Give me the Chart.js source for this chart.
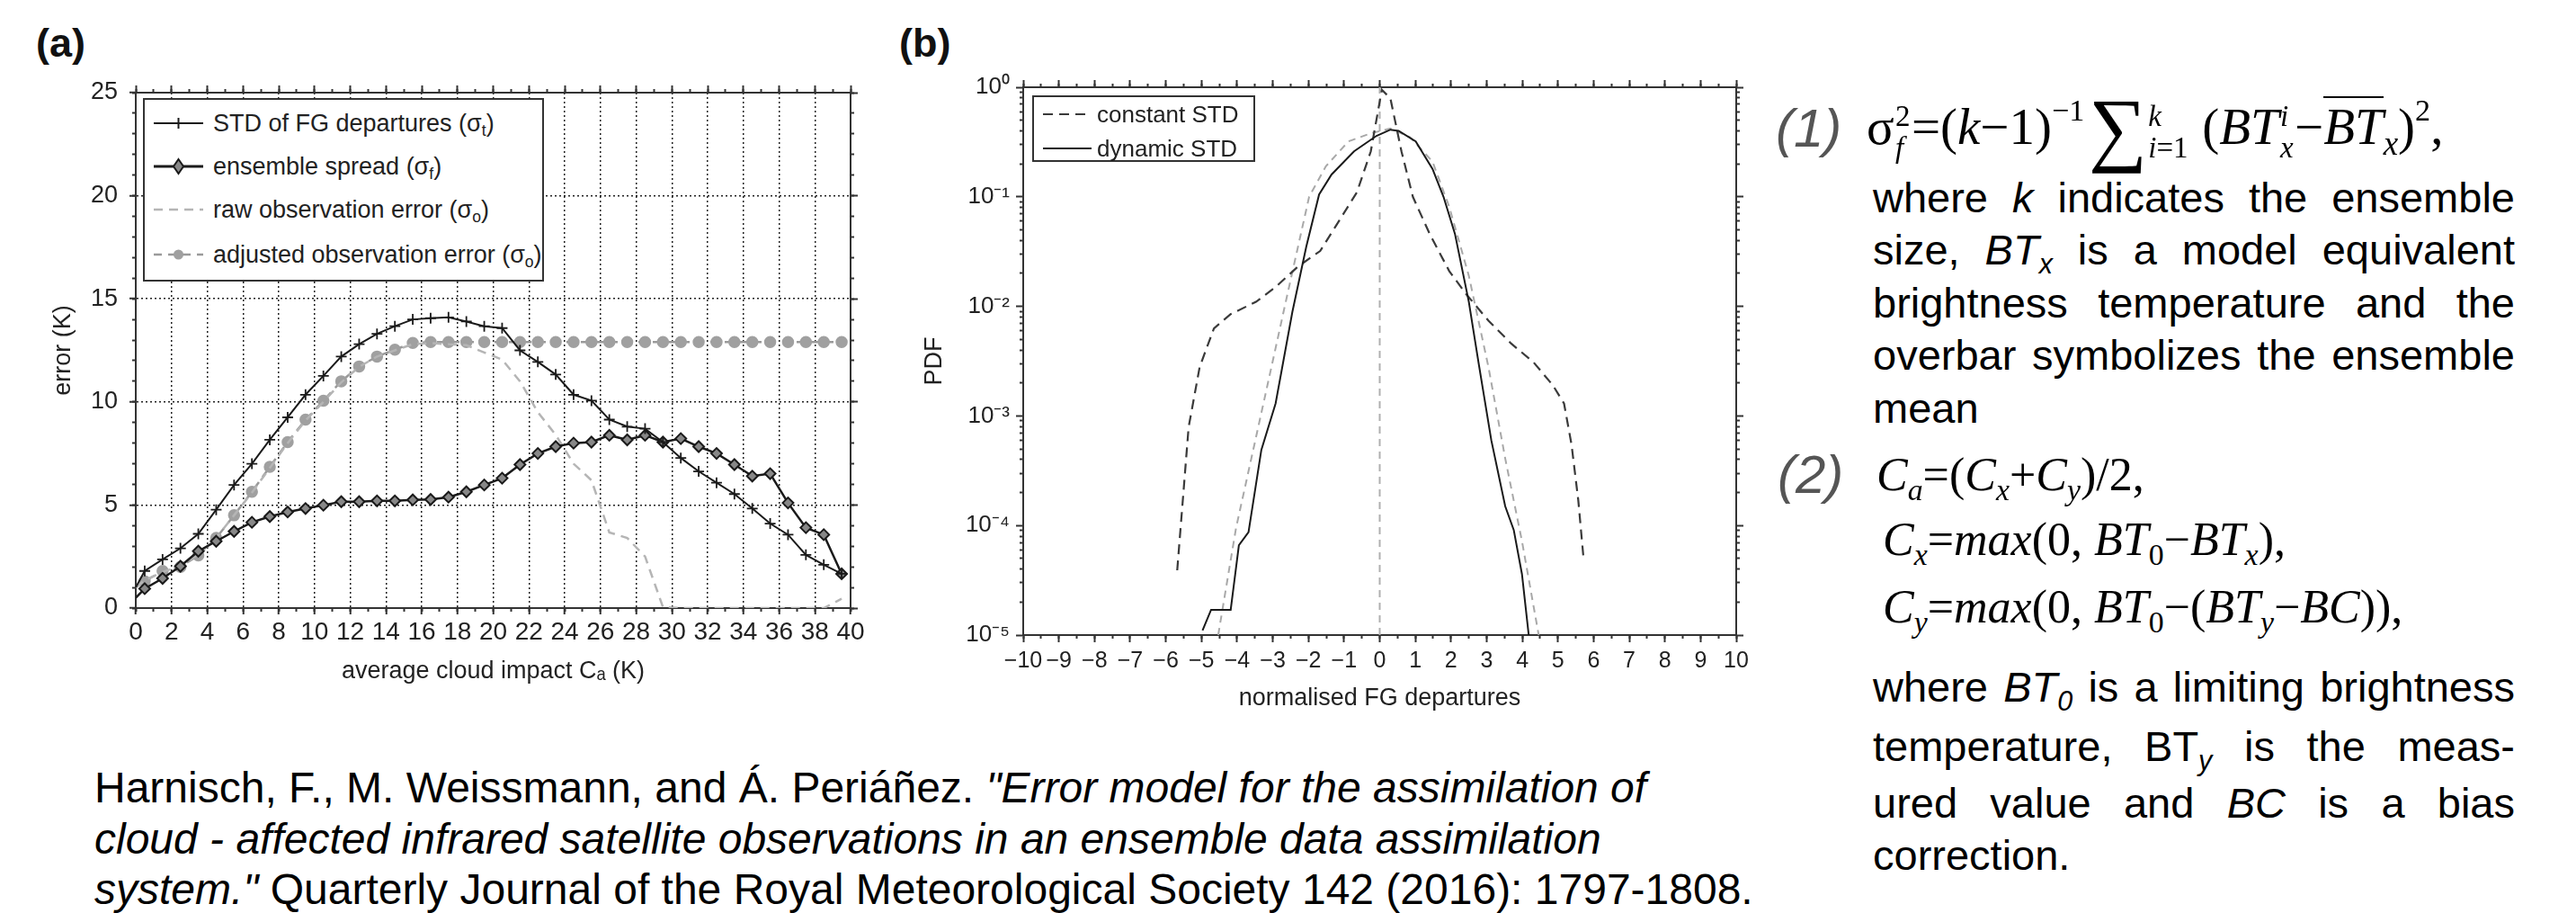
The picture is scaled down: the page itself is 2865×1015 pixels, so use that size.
<!DOCTYPE html>
<html>
<head>
<meta charset="utf-8">
<script src="https://cdn.jsdelivr.net/npm/chart.js@4.4.0/dist/chart.umd.min.js"></script>
<style>
html, body { margin: 0; padding: 0; background: #fff; }
body { width: 2865px; height: 1015px; position: relative; overflow: hidden;
       font-family: "Liberation Sans", Arial, sans-serif; color: #111; }
canvas { position: absolute; }
.tag { position: absolute; font-weight: bold; font-size: 45px; line-height: 1; }
.legend { position: absolute; border: 2px solid #333; background: #fff; box-sizing: border-box; }
.legend .row { position: absolute; left: 0; height: 36px; display: flex; align-items: center; white-space: nowrap; color: #222; }
.legend svg { display: block; }
.legend sub { font-size: 0.65em; vertical-align: -0.3em; line-height: 0; }
.line { position: absolute; font-size: 48px; line-height: 1; white-space: nowrap; color: #000; }
.para { position: absolute; left: 2083px; width: 714px; font-size: 47px; line-height: 1;
        text-align: justify; text-align-last: justify; color: #000; }
.para.last { text-align-last: left; }
.sb { font-size: 0.65em; vertical-align: -0.32em; line-height: 0; }
.eqn { position: absolute; font-style: italic; font-size: 60px; line-height: 1; color: #555; }
.math { position: absolute; font-family: "Liberation Serif", "Times New Roman", serif; font-size: 52px; line-height: 1; white-space: nowrap; color: #000; }
.math.big { font-size: 57px; }
.math .st { display: inline-flex; flex-direction: column; font-size: 0.58em; line-height: 1.05; vertical-align: middle; margin: 0 0.04em; }
.math .sp { font-size: 0.6em; vertical-align: 0.75em; line-height: 0; }
.math .sum { font-size: 1.6em; vertical-align: -0.14em; line-height: 0; margin-left: 0.05em; }
.math .ov { border-top: 2px solid #000; }
</style>
</head>
<body>

<div class="tag" style="left:40px;top:25px;">(a)</div>
<div class="tag" style="left:1000px;top:25px;">(b)</div>

<canvas id="chartA" width="980" height="780" style="left:0;top:0;"></canvas>
<canvas id="chartB" width="1000" height="800" style="left:980px;top:0;"></canvas>

<!-- legend (a) -->
<div class="legend" style="left:159px;top:109px;width:446px;height:204px;font-size:27px;">
  <div class="row" style="top:8px;">
    <svg width="76" height="24" viewBox="0 0 76 24"><line x1="10" y1="12" x2="65" y2="12" stroke="#1a1a1a" stroke-width="2"/><line x1="37.5" y1="6" x2="37.5" y2="18" stroke="#1a1a1a" stroke-width="2"/></svg>
    <span>STD of FG departures (σ<sub>t</sub>)</span>
  </div>
  <div class="row" style="top:56px;">
    <svg width="76" height="24" viewBox="0 0 76 24"><line x1="10" y1="12" x2="65" y2="12" stroke="#1a1a1a" stroke-width="3"/><polygon points="37.5,4 43,12 37.5,20 32,12" fill="#888" stroke="#1a1a1a" stroke-width="2"/></svg>
    <span>ensemble spread (σ<sub>f</sub>)</span>
  </div>
  <div class="row" style="top:104px;">
    <svg width="76" height="24" viewBox="0 0 76 24"><line x1="10" y1="12" x2="65" y2="12" stroke="#b5b5b5" stroke-width="2.5" stroke-dasharray="10 7"/></svg>
    <span>raw observation error (σ<sub>o</sub>)</span>
  </div>
  <div class="row" style="top:154px;">
    <svg width="76" height="24" viewBox="0 0 76 24"><line x1="10" y1="12" x2="65" y2="12" stroke="#9a9a9a" stroke-width="2.5" stroke-dasharray="9 7"/><circle cx="37.5" cy="12" r="5.5" fill="#a0a0a0"/></svg>
    <span>adjusted observation error (σ<sub>o</sub>)</span>
  </div>
</div>

<!-- legend (b) -->
<div class="legend" style="left:1148px;top:106px;width:248px;height:74px;font-size:26px;">
  <div class="row" style="top:1px;">
    <svg width="70" height="24" viewBox="0 0 70 24"><line x1="10" y1="12" x2="64" y2="12" stroke="#3a3a3a" stroke-width="2.2" stroke-dasharray="11 7"/></svg>
    <span>constant STD</span>
  </div>
  <div class="row" style="top:39px;">
    <svg width="70" height="24" viewBox="0 0 70 24"><line x1="10" y1="12" x2="64" y2="12" stroke="#1a1a1a" stroke-width="2"/></svg>
    <span>dynamic STD</span>
  </div>
</div>

<!-- equations and text -->
<div class="eqn" style="left:1975px;top:113px;">(1)</div>
<div class="math big" style="left:2076px;top:112px;">σ<span class="st"><span>2</span><i>f</i></span>=(<i>k</i>−1)<span class="sp">−1</span><span class="sum">∑</span><span class="st"><i>k</i><span><i>i</i>=1</span></span> (<i>BT</i><span class="st"><i>i</i><i>x</i></span>−<span class="ov"><i>BT</i></span><span class="sb"><i>x</i></span>)<span class="sp">2</span>,</div>

<div class="para" style="top:196px;">where <i>k</i> indicates the ensemble</div>
<div class="para" style="top:254px;">size, <i>BT<span class="sb">x</span></i> is a model equivalent</div>
<div class="para" style="top:313px;">brightness temperature and the</div>
<div class="para" style="top:371px;">overbar symbolizes the ensemble</div>
<div class="para last" style="top:430px;">mean</div>

<div class="eqn" style="left:1977px;top:498px;">(2)</div>
<div class="math" style="left:2087px;top:502px;"><i>C</i><span class="sb"><i>a</i></span>=(<i>C</i><span class="sb"><i>x</i></span>+<i>C</i><span class="sb"><i>y</i></span>)/2,</div>
<div class="math" style="left:2094px;top:574px;"><i>C</i><span class="sb"><i>x</i></span>=<i>max</i>(0, <i>BT</i><span class="sb">0</span>−<i>BT</i><span class="sb"><i>x</i></span>),</div>
<div class="math" style="left:2094px;top:649px;"><i>C</i><span class="sb"><i>y</i></span>=<i>max</i>(0, <i>BT</i><span class="sb">0</span>−(<i>BT</i><span class="sb"><i>y</i></span>−<i>BC</i>)),</div>

<div class="para" style="top:740px;">where <i>BT<span class="sb">0</span></i> is a limiting brightness</div>
<div class="para" style="top:806px;">temperature, BT<span class="sb"><i>y</i></span> is the meas-</div>
<div class="para" style="top:869px;">ured value and <i>BC</i> is a bias</div>
<div class="para last" style="top:927px;">correction.</div>

<div class="line" style="left:105px;top:852px;">Harnisch, F., M. Weissmann, and Á. Periáñez. <i>"Error model for the assimilation of</i></div>
<div class="line" style="left:105px;top:909px;"><i>cloud - affected infrared satellite observations in an ensemble data assimilation</i></div>
<div class="line" style="left:105px;top:965px;"><i>system."</i> Quarterly Journal of the Royal Meteorological Society 142 (2016): 1797-1808.</div>

<script>
// ---- panel (a) data: error vs average cloud impact (bin centres) ----
const cloudImpact = [0, 0.5, 1.5, 2.5, 3.5, 4.5, 5.5, 6.5, 7.5, 8.5, 9.5, 10.5, 11.5, 12.5, 13.5, 14.5,
  15.5, 16.5, 17.5, 18.5, 19.5, 20.5, 21.5, 22.5, 23.5, 24.5, 25.5, 26.5, 27.5, 28.5, 29.5, 30.5,
  31.5, 32.5, 33.5, 34.5, 35.5, 36.5, 37.5, 38.5, 39.5];
const stdFgDep = [1.0, 1.8, 2.36, 2.9, 3.6, 4.77, 5.97, 7.0, 8.16, 9.25, 10.35, 11.26, 12.2, 12.8, 13.3, 13.67,
  14.0, 14.06, 14.1, 13.9, 13.67, 13.58, 12.5, 11.94, 11.33, 10.35, 10.06, 9.14, 8.8, 8.7, 8.05, 7.28,
  6.63, 6.08, 5.53, 4.83, 4.1, 3.56, 2.58, 2.1, 1.66];
const ensSpread = [0.5, 0.94, 1.44, 2.03, 2.76, 3.24, 3.72, 4.16, 4.44, 4.66, 4.83, 4.99, 5.16, 5.16, 5.2, 5.2,
  5.25, 5.27, 5.38, 5.64, 5.97, 6.3, 6.96, 7.5, 7.83, 8.0, 8.05, 8.38, 8.16, 8.38, 8.05, 8.22,
  7.83, 7.5, 6.96, 6.4, 6.52, 5.1, 3.9, 3.56, 1.66];
const rawObsErr = [1.0, 1.35, 1.75, 2.05, 2.6, 3.4, 4.5, 5.6, 6.8, 8.0, 9.1, 10.0, 10.95, 11.7, 12.2, 12.5,
  12.8, 12.85, 12.8, 12.75, 12.4, 12.05, 11.0, 9.5, 8.4, 7.0, 6.2, 3.67, 3.4, 2.5, 0.05, 0,
  0, 0, 0, 0, 0, 0, 0, 0, 0.45];
const adjObsErr = [1.0, 1.3, 1.8, 2.0, 2.55, 3.4, 4.5, 5.64, 6.85, 8.05, 9.14, 10.06, 11.0, 11.72, 12.2, 12.53,
  12.86, 12.9, 12.9, 12.9, 12.9, 12.9, 12.9, 12.9, 12.9, 12.9, 12.9, 12.9, 12.9, 12.9, 12.9, 12.9,
  12.9, 12.9, 12.9, 12.9, 12.9, 12.9, 12.9, 12.9, 12.9];
const impactTicks = [0, 2, 4, 6, 8, 10, 12, 14, 16, 18, 20, 22, 24, 26, 28, 30, 32, 34, 36, 38, 40];
const errorTicks = [0, 5, 10, 15, 20, 25];

// ---- panel (b) data: PDF of normalised FG departures ----
const constX = [-5.68, -5.36, -5.05, -4.65, -4.18, -3.47, -2.92, -2.30, -1.67, -1.04, -0.64, -0.25, 0.06,
  0.30, 0.61, 0.93, 1.40, 1.95, 2.42, 3.05, 3.68, 4.31, 4.86, 5.17, 5.38, 5.57, 5.72];
const constPdf = [3.9e-5, 7.9e-4, 2.8e-3, 6.3e-3, 8.5e-3, 1.1e-2, 1.5e-2, 2.3e-2, 3.2e-2, 6.8e-2, 0.11, 0.26, 0.95,
  0.79, 0.26, 0.10, 0.046, 0.021, 0.013, 7.4e-3, 4.6e-3, 3.1e-3, 1.9e-3, 1.3e-3, 5.5e-4, 1.7e-4, 4.9e-5];
const dynX = [-4.97, -4.73, -4.50, -4.18, -3.95, -3.68, -3.32, -2.92, -2.45, -2.06, -1.70, -1.35, -0.72, -0.09,
  0.30, 0.53, 1.01, 1.48, 1.79, 2.11, 2.50, 2.77, 3.13, 3.52, 3.76, 3.99, 4.18];
const dynPdf = [1.1e-5, 1.7e-5, 1.7e-5, 1.7e-5, 6.6e-5, 8.7e-5, 4.9e-4, 1.3e-3, 8.9e-3, 0.035, 0.105, 0.16, 0.26, 0.36,
  0.41, 0.40, 0.32, 0.18, 0.10, 0.046, 0.011, 3.1e-3, 6.0e-4, 1.5e-4, 9.1e-5, 3.6e-5, 1.0e-5];
const gaussX = [-4.53, -4.03, -3.24, -2.61, -1.98, -1.51, -0.88, -0.25, 0.30, 0.85, 1.48, 1.95, 2.50, 3.05, 3.52, 3.99, 4.46];
const gaussPdf = [1.0e-5, 9.5e-5, 1.4e-3, 0.012, 0.10, 0.19, 0.32, 0.38, 0.42, 0.35, 0.21, 0.081, 0.019, 2.8e-3, 4.1e-4, 7.2e-5, 1.0e-5];
const zeroX = [0, 0];
const zeroPdf = [1e-5, 1];
const departTicks = [-10, -9, -8, -7, -6, -5, -4, -3, -2, -1, 0, 1, 2, 3, 4, 5, 6, 7, 8, 9, 10];
const pdfTicks = [1e-5, 1e-4, 1e-3, 1e-2, 1e-1, 1];
const pdfTickLabels = ['10⁻⁵', '10⁻⁴', '10⁻³', '10⁻²', '10⁻¹', '10⁰'];

// minor tick positions
const impactMinor = []; for (let v = 0; v <= 40; v++) impactMinor.push(v);
const errorMinor = []; for (let v = 0; v <= 25; v++) errorMinor.push(v);
const departMinor = []; for (let v = -10; v <= 10; v += 0.5) departMinor.push(v);
const pdfMinor = []; for (let e = -5; e < 0; e++) for (let m = 2; m <= 9; m++) pdfMinor.push(m * Math.pow(10, e));

const FONT = 'Liberation Sans';
const AXIS = '#333';
const pts = (xs, ys) => xs.map((x, i) => ({x, y: ys[i]}));
const setTicks = vals => s => { s.ticks = vals.map(v => ({value: v})); };

// axis that only draws tick marks (and optionally the frame line)
function tickAxis(pos, type, min, max, vals, len, frame) {
  const horiz = pos === 'top' || pos === 'bottom';
  return {
    type, position: pos, min, max, weight: 0,
    afterBuildTicks: setTicks(vals),
    afterFit: s => { if (horiz) s.height = 0; else s.width = 0; },
    ticks: { display: false, autoSkip: false },
    grid: { drawOnChartArea: false, tickLength: len, tickWidth: 2, tickColor: AXIS },
    border: { display: !!frame, color: AXIS, width: 2 }
  };
}

Chart.defaults.font.family = FONT;
Chart.defaults.color = '#222';

new Chart(document.getElementById('chartA'), {
  type: 'line',
  data: {
    datasets: [
      { label: 'STD of FG departures', data: pts(cloudImpact, stdFgDep), borderColor: '#1a1a1a', borderWidth: 2,
        pointStyle: 'cross', pointRadius: c => c.dataIndex === 0 ? 0 : 6, pointBorderWidth: 1.8,
        pointBorderColor: '#1a1a1a', tension: 0 },
      { label: 'ensemble spread', data: pts(cloudImpact, ensSpread), borderColor: '#1a1a1a', borderWidth: 2.5,
        pointStyle: 'rectRot', pointRadius: c => c.dataIndex === 0 ? 0 : 6, pointBorderWidth: 2,
        pointBorderColor: '#1a1a1a', pointBackgroundColor: '#888', tension: 0 },
      { label: 'raw observation error', data: pts(cloudImpact, rawObsErr), borderColor: '#b5b5b5', borderWidth: 2.5,
        borderDash: [10, 7], pointRadius: 0, tension: 0 },
      { label: 'adjusted observation error', data: pts(cloudImpact, adjObsErr), borderColor: '#9a9a9a', borderWidth: 2.5,
        borderDash: [9, 7], pointStyle: 'circle', pointRadius: c => c.dataIndex === 0 ? 0 : 5.5,
        pointBackgroundColor: '#a0a0a0', pointBorderColor: '#a0a0a0', tension: 0 }
    ]
  },
  options: {
    responsive: false, animation: false,
    layout: { padding: { top: 103, right: 34, left: 0, bottom: 0 } },
    plugins: { legend: { display: false }, tooltip: { enabled: false } },
    scales: {
      x: {
        type: 'linear', position: 'bottom', min: 0, max: 40, weight: 1,
        afterBuildTicks: setTicks(impactTicks),
        afterFit: s => { s.height = 104; },
        ticks: { autoSkip: false, maxRotation: 0, padding: 3, color: '#222', font: { size: 28 } },
        grid: { color: '#222', lineWidth: 1.5, tickLength: 7, tickWidth: 2, tickColor: AXIS },
        border: { display: true, color: AXIS, width: 2, dash: [2, 3] },
        title: { display: true, text: 'average cloud impact Cₐ (K)', color: '#222', font: { size: 27 }, padding: { top: 0, bottom: 17 } }
      },
      y: {
        type: 'linear', position: 'left', min: 0, max: 25, weight: 1,
        afterBuildTicks: setTicks(errorTicks),
        afterFit: s => { s.width = 151; },
        ticks: { autoSkip: false, padding: 13, color: '#222', font: { size: 27 } },
        grid: { color: '#222', lineWidth: 1.5, tickLength: 7, tickWidth: 2, tickColor: AXIS },
        border: { display: true, color: AXIS, width: 2, dash: [2, 3] },
        title: { display: true, text: 'error (K)', color: '#222', font: { size: 27 }, padding: { top: 54, bottom: 0 } }
      },
      xMinor: tickAxis('bottom', 'linear', 0, 40, impactMinor, 4),
      yMinor: tickAxis('left', 'linear', 0, 25, errorMinor, 4),
      xTop: tickAxis('top', 'linear', 0, 40, impactTicks, 8, true),
      xTopMinor: tickAxis('top', 'linear', 0, 40, impactMinor, 4),
      yRight: tickAxis('right', 'linear', 0, 25, errorTicks, 8, true),
      yRightMinor: tickAxis('right', 'linear', 0, 25, errorMinor, 4)
    }
  }
});

new Chart(document.getElementById('chartB'), {
  type: 'line',
  data: {
    datasets: [
      { label: 'dynamic STD', data: pts(dynX, dynPdf), borderColor: '#1a1a1a', borderWidth: 2, pointRadius: 0, tension: 0 },
      { label: 'constant STD', data: pts(constX, constPdf), borderColor: '#3a3a3a', borderWidth: 2.2,
        borderDash: [11, 7], pointRadius: 0, tension: 0 },
      { label: 'reference', data: pts(gaussX, gaussPdf), borderColor: '#a8a8a8', borderWidth: 2,
        borderDash: [8, 6], pointRadius: 0, tension: 0 },
      { label: 'zero', data: pts(zeroX, zeroPdf), borderColor: '#b0b0b0', borderWidth: 2,
        borderDash: [8, 6], pointRadius: 0 }
    ]
  },
  options: {
    responsive: false, animation: false,
    layout: { padding: { top: 97, right: 49, left: 0, bottom: 0 } },
    plugins: { legend: { display: false }, tooltip: { enabled: false } },
    scales: {
      x: {
        type: 'linear', position: 'bottom', min: -10, max: 10, weight: 1,
        afterBuildTicks: setTicks(departTicks),
        afterFit: s => { s.height = 94; },
        ticks: { autoSkip: false, maxRotation: 0, padding: 6, color: '#222', font: { size: 25 },
                 callback: v => v < 0 ? '−' + Math.abs(v) : String(v) },
        grid: { drawOnChartArea: false, tickLength: 8, tickWidth: 2, tickColor: AXIS },
        border: { display: true, color: AXIS, width: 2 },
        title: { display: true, text: 'normalised FG departures', color: '#222', font: { size: 27 }, padding: { top: 0, bottom: 7 } }
      },
      y: {
        type: 'logarithmic', position: 'left', min: 1e-5, max: 1, weight: 1,
        afterBuildTicks: setTicks(pdfTicks),
        afterFit: s => { s.width = 158; },
        ticks: { autoSkip: false, padding: 7, color: '#222', font: { size: 26 },
                 callback: v => pdfTickLabels[pdfTicks.findIndex(t => Math.abs(Math.log10(t) - Math.log10(v)) < 1e-6)] },
        grid: { drawOnChartArea: false, tickLength: 8, tickWidth: 2, tickColor: AXIS },
        border: { display: true, color: AXIS, width: 2 },
        title: { display: true, text: 'PDF', color: '#222', font: { size: 27 }, padding: { top: 43, bottom: 0 } }
      },
      xMinor: tickAxis('bottom', 'linear', -10, 10, departMinor, 4),
      yMinor: tickAxis('left', 'logarithmic', 1e-5, 1, pdfMinor, 4),
      xTop: tickAxis('top', 'linear', -10, 10, departTicks, 8, true),
      xTopMinor: tickAxis('top', 'linear', -10, 10, departMinor, 4),
      yRight: tickAxis('right', 'logarithmic', 1e-5, 1, pdfTicks, 8, true),
      yRightMinor: tickAxis('right', 'logarithmic', 1e-5, 1, pdfMinor, 4)
    }
  }
});
</script>
</body>
</html>
